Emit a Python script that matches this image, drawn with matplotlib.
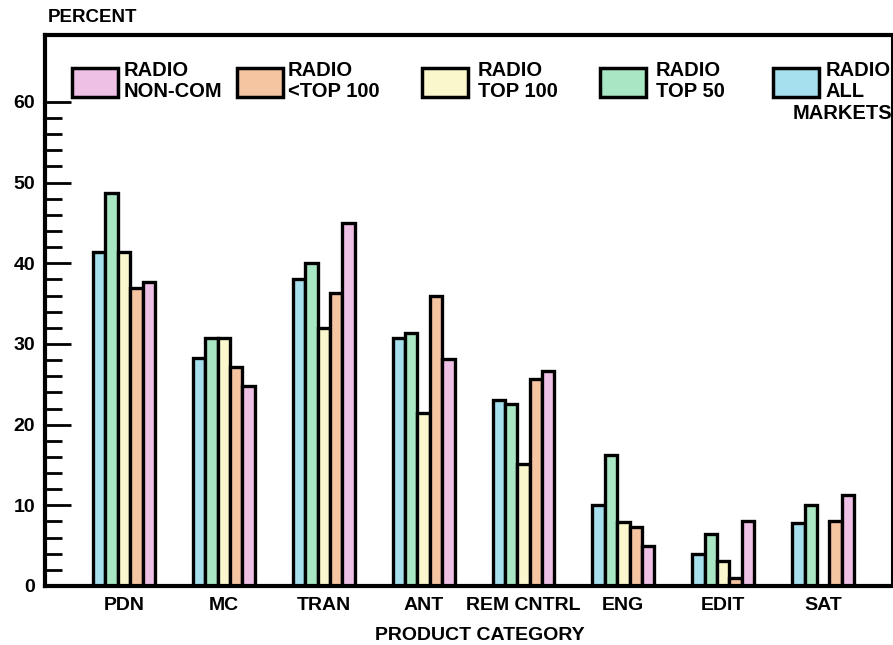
import matplotlib
matplotlib.use('Agg')
import matplotlib.pyplot as plt
from matplotlib.ticker import FixedLocator
import numpy as np

plt.rcParams['font.family'] = ['Liberation Sans', 'DejaVu Sans']
plt.rcParams['font.weight'] = 'bold'

# данные
categories = ['PDN', 'MC', 'TRAN', 'ANT', 'REM CNTRL', 'ENG', 'EDIT', 'SAT']
all_markets = [41.4, 28.3, 38.1, 30.8, 23.0, 10.0, 4.0, 7.8]
top_50 = [48.7, 30.8, 40.0, 31.4, 22.6, 16.2, 6.5, 10.0]
top_100 = [41.4, 30.8, 32.0, 21.4, 15.1, 7.9, 3.1, 0.0]
below_top_100 = [37.0, 27.2, 36.3, 35.9, 25.7, 7.3, 1.0, 8.0]
non_com = [37.7, 24.8, 45.0, 28.1, 26.7, 4.9, 8.0, 11.3]

series = [all_markets, top_50, top_100, below_top_100, non_com]
colors = ['#A6E0EE', '#A8E6C4', '#FBF7CC', '#F5C4A0', '#EFC0E6']
legend_labels = ['RADIO\nALL', 'RADIO\nTOP 50', 'RADIO\nTOP 100', 'RADIO\n<TOP 100', 'RADIO\nNON-COM']

fig = plt.figure(figsize=(8.93, 6.45), dpi=100)
ax = fig.add_axes([45 / 893, 59 / 645, 847 / 893, 551 / 645])

x = np.arange(len(categories))
width = 0.124
for i, (vals, col) in enumerate(zip(series, colors)):
    ax.bar(x + (i - 2) * width, vals, width, color=col, edgecolor='black',
           linewidth=2.4, zorder=2)

ax.set_xlim(-0.791, 7.69)
ax.set_ylim(0, 68.3)

# оси и риски
for side in ['left', 'top', 'bottom']:
    ax.spines[side].set_linewidth(3)
ax.spines['right'].set_linewidth(1.5)
ax.yaxis.set_major_locator(FixedLocator(np.arange(0, 61, 10)))
ax.yaxis.set_minor_locator(FixedLocator(np.arange(0, 61, 2)))
ax.tick_params(axis='y', which='major', direction='in', length=19, width=2,
               labelsize=14, pad=7)
ax.tick_params(axis='y', which='minor', direction='in', length=12, width=2)
ax.set_xticks(x)
ax.set_xticklabels(categories, fontsize=14, fontweight='bold')
ax.tick_params(axis='x', length=0, pad=8)
for lbl in ax.get_yticklabels():
    lbl.set_fontweight('bold')

fig.text(48 / 893, 1 - 18 / 645, 'PERCENT', fontsize=13.5, fontweight='bold',
         va='center', ha='left')
fig.text(480 / 893, 1 - 636 / 645, 'PRODUCT CATEGORY', fontsize=14,
         fontweight='bold', va='center', ha='center')

# легенда вручную: прямоугольники и подписи
box_x = [773, 600, 422, 237, 72]
text_x = [826, 656, 478, 288, 124]
for bx, tx, col, lab in zip(box_x, text_x, colors, legend_labels):
    rect = plt.Rectangle((bx / 893, 1 - 97 / 645), 46 / 893, 29 / 645,
                         transform=fig.transFigure, facecolor=col,
                         edgecolor='black', linewidth=2.5)
    fig.patches.append(rect)
    fig.text(tx / 893, 1 - 61 / 645, lab, fontsize=14.5, fontweight='bold',
             va='top', ha='left', linespacing=1.15)
fig.text(793 / 893, 1 - 104 / 645, 'MARKETS', fontsize=14.5, fontweight='bold',
         va='top', ha='left')

plt.savefig('out.png', dpi=100)
plt.close(fig)
